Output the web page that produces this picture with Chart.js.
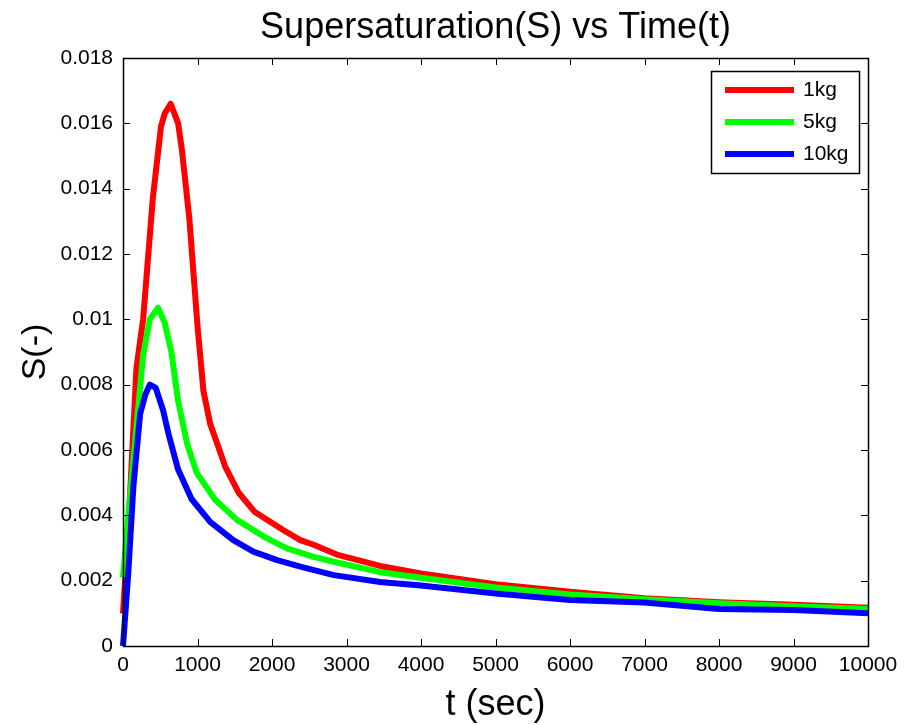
<!DOCTYPE html>
<html>
<head>
<meta charset="utf-8">
<title>Supersaturation(S) vs Time(t)</title>
<script src="https://cdn.jsdelivr.net/npm/chart.js@4.4.1/dist/chart.umd.min.js"></script>
<style>
  html, body { margin: 0; padding: 0; background: #fff; }
  canvas { display: block; }
</style>
</head>
<body>
<canvas id="chart-ss" width="906" height="725"></canvas>
<script>
// ---- data ----
const seriesLabels = ['1kg', '5kg', '10kg'];
const seriesColors = ['#ff0000', '#00ff00', '#0000ff'];

const t1kg = [0, 70, 180, 270, 400, 510, 560, 640, 740, 790, 890, 1000, 1080, 1170, 1280, 1370, 1550, 1770, 2150, 2380, 2560, 2870, 3450, 4000, 5000, 6000, 7000, 8000, 9000, 10000];
const s1kg = [0.0010, 0.0035, 0.0085, 0.0100, 0.0137, 0.0159, 0.0163, 0.0166, 0.0160, 0.0152, 0.0131, 0.0098, 0.0078, 0.0068, 0.0061, 0.0055, 0.0047, 0.0041, 0.00355, 0.00324, 0.0031, 0.0028, 0.00245, 0.00222, 0.00189, 0.00166, 0.00146, 0.00134, 0.00126, 0.00117];

const t5kg = [0, 80, 160, 270, 360, 470, 560, 650, 740, 860, 990, 1240, 1530, 1890, 2200, 2560, 2830, 3450, 4000, 5000, 6000, 7000, 8000, 9000, 10000];
const s5kg = [0.0021, 0.0042, 0.0062, 0.0089, 0.0100, 0.01035, 0.0099, 0.0090, 0.0075, 0.0062, 0.0053, 0.00447, 0.00386, 0.00335, 0.00299, 0.00273, 0.00258, 0.00226, 0.00209, 0.00179, 0.00158, 0.00143, 0.00131, 0.00122, 0.00113];

const t10kg = [0, 70, 140, 230, 300, 360, 440, 540, 610, 740, 920, 1170, 1480, 1750, 2070, 2380, 2830, 3450, 4000, 5000, 6000, 7000, 8000, 9000, 10000];
const s10kg = [0, 0.0022, 0.0049, 0.0071, 0.0077, 0.0080, 0.0079, 0.0072, 0.0065, 0.0054, 0.0045, 0.0038, 0.00324, 0.00289, 0.00263, 0.00243, 0.00217, 0.00196, 0.00185, 0.00161, 0.00141, 0.00133, 0.00113, 0.0011, 0.0010];

const xTicks = [0, 1000, 2000, 3000, 4000, 5000, 6000, 7000, 8000, 9000, 10000];
const yTicks = [0, 0.002, 0.004, 0.006, 0.008, 0.01, 0.012, 0.014, 0.016, 0.018];

const FONT = 'Liberation Sans, Arial, Helvetica, sans-serif';

const toPoints = (ts, vs) => ts.map((t, i) => ({ x: t, y: vs[i] }));

// box + inward ticks on all four sides, MATLAB style
const framePlugin = {
  id: 'frame',
  afterDatasetsDraw(chart) {
    const { ctx, chartArea: a, scales: { x, y } } = chart;
    const len = 7;
    ctx.save();
    ctx.strokeStyle = '#000';
    ctx.lineWidth = 1;
    ctx.beginPath();
    xTicks.forEach(v => {
      const px = Math.round(x.getPixelForValue(v)) + 0.5;
      ctx.moveTo(px, a.bottom); ctx.lineTo(px, a.bottom - len);
      ctx.moveTo(px, a.top); ctx.lineTo(px, a.top + len);
    });
    yTicks.forEach(v => {
      const py = Math.round(y.getPixelForValue(v)) + 0.5;
      ctx.moveTo(a.left, py); ctx.lineTo(a.left + len, py);
      ctx.moveTo(a.right, py); ctx.lineTo(a.right - len, py);
    });
    ctx.stroke();
    ctx.lineWidth = 1.5;
    ctx.strokeRect(Math.round(a.left) + 0.5, Math.round(a.top) + 0.5,
      Math.round(a.right - a.left), Math.round(a.bottom - a.top));
    ctx.restore();
  }
};

// legend box in the top-right corner of the axes
const legendPlugin = {
  id: 'boxLegend',
  afterDraw(chart) {
    const { ctx, chartArea: a } = chart;
    const boxR = a.right - 9, boxT = a.top + 13, boxW = 148, boxH = 102;
    const boxL = boxR - boxW;
    ctx.save();
    ctx.fillStyle = '#fff';
    ctx.fillRect(boxL, boxT, boxW, boxH);
    ctx.strokeStyle = '#000';
    ctx.lineWidth = 1.5;
    ctx.strokeRect(boxL + 0.5, boxT + 0.5, boxW, boxH);
    ctx.font = '21px ' + FONT;
    ctx.textBaseline = 'middle';
    ctx.textAlign = 'left';
    chart.data.datasets.forEach((ds, i) => {
      const cy = boxT + 19 + i * 32;
      ctx.strokeStyle = ds.borderColor;
      ctx.lineWidth = 6;
      ctx.beginPath();
      ctx.moveTo(boxL + 14, cy);
      ctx.lineTo(boxL + 83, cy);
      ctx.stroke();
      ctx.fillStyle = '#000';
      ctx.fillText(ds.label, boxL + 92, cy);
    });
    ctx.restore();
  }
};

const ctx = document.getElementById('chart-ss').getContext('2d');
const ssChart = new Chart(ctx, {
  type: 'line',
  data: {
    datasets: [
      { label: seriesLabels[0], data: toPoints(t1kg, s1kg), borderColor: seriesColors[0], order: 2 },
      { label: seriesLabels[1], data: toPoints(t5kg, s5kg), borderColor: seriesColors[1], order: 1 },
      { label: seriesLabels[2], data: toPoints(t10kg, s10kg), borderColor: seriesColors[2], order: 0 }
    ].map(ds => Object.assign(ds, {
      borderWidth: 6,
      pointRadius: 0,
      tension: 0,
      fill: false,
      clip: false,
      borderJoinStyle: 'round',
      borderCapStyle: 'butt'
    }))
  },
  options: {
    responsive: false,
    animation: false,
    layout: { padding: { left: 0, right: 38, top: 0, bottom: 0 } },
    plugins: {
      legend: { display: false },
      tooltip: { enabled: false },
      title: {
        display: true,
        text: 'Supersaturation(S) vs Time(t)',
        color: '#000',
        fullSize: false,
        font: { family: FONT, size: 36, weight: 'normal', lineHeight: 1 },
        padding: { top: 10, bottom: 12 }
      }
    },
    scales: {
      x: {
        type: 'linear',
        min: 0,
        max: 10000,
        afterFit: s => { s.height = 79; },
        afterBuildTicks: s => { s.ticks = xTicks.map(v => ({ value: v })); },
        grid: { display: false, drawTicks: false },
        border: { display: false },
        ticks: {
          color: '#000',
          padding: 7,
          maxRotation: 0,
          font: { family: FONT, size: 21 },
          callback: v => String(v)
        },
        title: {
          display: true,
          text: 't (sec)',
          color: '#000',
          font: { family: FONT, size: 36, lineHeight: 1 },
          padding: { top: 0, bottom: 2 }
        }
      },
      y: {
        min: 0,
        max: 0.018,
        afterFit: s => { s.width = 123; },
        afterBuildTicks: s => { s.ticks = yTicks.map(v => ({ value: v })); },
        grid: { display: false, drawTicks: false },
        border: { display: false },
        ticks: {
          color: '#000',
          padding: 10,
          font: { family: FONT, size: 21 },
          callback: v => String(Number(v.toFixed(3)))
        },
        title: {
          display: true,
          text: 'S(-)',
          color: '#000',
          font: { family: FONT, size: 34, lineHeight: 1 },
          padding: { top: 19, bottom: 0 }
        }
      }
    }
  },
  plugins: [framePlugin, legendPlugin]
});
</script>
</body>
</html>
